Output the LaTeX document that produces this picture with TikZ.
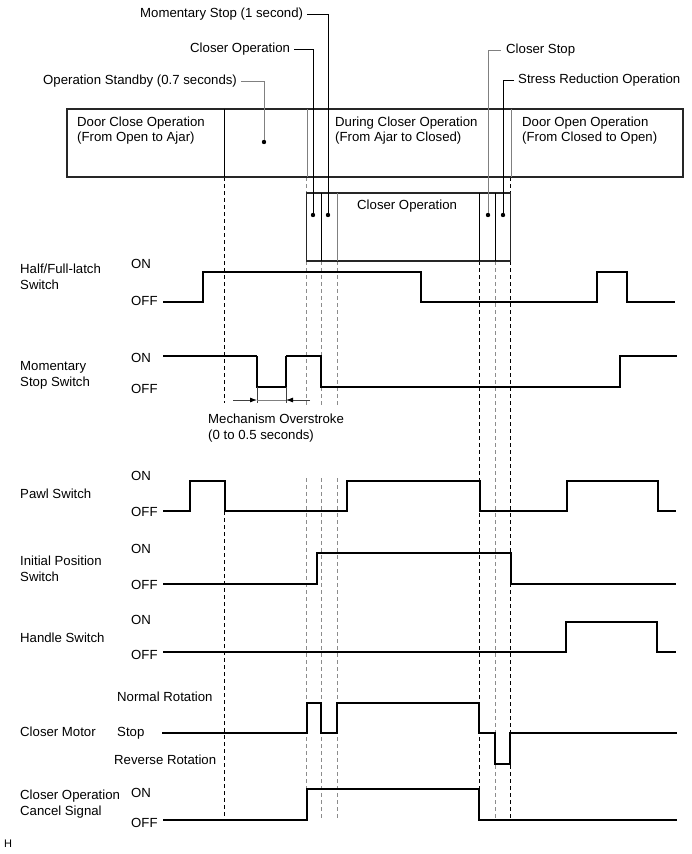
\documentclass[tikz,border=0pt]{standalone}
\usepackage{fontspec}
\setmainfont{Liberation Sans}
\usetikzlibrary{arrows.meta}
\begin{document}
\begin{tikzpicture}[x=1pt,y=-1pt,
  txt/.style={inner sep=0pt,anchor=base west,font=\fontsize{13.2}{16}\selectfont},
  sig/.style={line width=1.8pt,line join=miter,black},
  thinsig/.style={line width=1.2pt,black},
  boxl/.style={draw=black!85,line width=1.2pt},
  lead/.style={line width=1pt,black},
  leadg/.style={line width=1pt,black!50},
  dsh/.style={line width=0.9pt,black,dash pattern=on 4pt off 3pt},
  dshg/.style={line width=0.9pt,black!45,dash pattern=on 4pt off 3pt},
  dotm/.style={circle,fill=black,inner sep=0pt,minimum size=4.4pt},
  dimarrow/.style={line width=0.8pt,black!75,-{Latex[length=7pt,width=5pt,fill=black,color=black]}}
]
\useasboundingbox (0,0) rectangle (691,854);

% ---------- dashed time markers ----------
\draw[dsh]  (224,177) -- (224,403);
\draw[dsh]  (224,511) -- (224,820);
\draw[dshg] (306.5,177) -- (306.5,406);
\draw[dshg] (306.5,478) -- (306.5,820);
\draw[dshg] (321,261) -- (321,406);
\draw[dshg] (321,478) -- (321,820);
\draw[dshg] (337,261) -- (337,406);
\draw[dshg] (337,478) -- (337,820);
\draw[dsh]  (479,261) -- (479,820);
\draw[dshg] (495,261) -- (495,820);
\draw[dsh]  (510.5,177) -- (510.5,820);

% ---------- top box ----------
\draw[boxl,fill=white] (67,109) rectangle (683,177);
\draw[line width=1pt,black] (224,109) -- (224,177);
\draw[line width=1pt,black!50] (307,109) -- (307,177);
\draw[line width=1pt,black!50] (511,109) -- (511,177);
\node[txt] (dc1) at (77,126.5) {Door Close Operation};
\node[txt] (dc2) at (77,141) {(From Open to Ajar)};
\node[txt] (dr1) at (335,126.5) {During Closer Operation};
\node[txt] (dr2) at (335,141) {(From Ajar to Closed)};
\node[txt] (do1) at (522,126.5) {Door Open Operation};
\node[txt] (do2) at (522,141) {(From Closed to Open)};

% ---------- closer operation box ----------
\draw[boxl,fill=white] (306.5,193) rectangle (510.5,261);
\draw[line width=1pt,black] (321,193) -- (321,261);
\draw[line width=1pt,black!50] (337,193) -- (337,261);
\draw[line width=1pt,black] (479,193) -- (479,261);
\draw[line width=1pt,black] (495,193) -- (495,261);
\node[txt] (cob) at (357,209.5) {Closer Operation};

% ---------- leaders ----------
\node[dotm] (p1) at (264,142) {};
\node[dotm] (p2) at (313,215) {};
\node[dotm] (p3) at (328,215) {};
\node[dotm] (p4) at (488,215) {};
\node[dotm] (p5) at (503,215) {};
\node[txt] (lms) at (140,17.5) {Momentary Stop (1 second)};
\node[txt] (lco) at (190,52.5) {Closer Operation};
\node[txt] (los) at (43,84.5) {Operation Standby (0.7 seconds)};
\node[txt] (lcs) at (506,53.5) {Closer Stop};
\node[txt] (lsr) at (518,83.5) {Stress Reduction Operation};
\draw[lead]  ([xshift=4pt]lms.east) -| (p3);
\draw[lead]  ([xshift=4pt]lco.east) -| (p2);
\draw[leadg] ([xshift=4pt]los.east) -| (p1);
\draw[leadg] ([xshift=-5pt]lcs.west) -| (p4);
\draw[lead]  ([xshift=-4pt]lsr.west) -| (p5);

% ---------- Half/Full-latch Switch ----------
\node[txt] (hf1) at (20,273.5) {Half/Full-latch};
\node[txt] (hf2) at (20,289.5) {Switch};
\node[txt] (hfon) at (131,268.5) {ON};
\node[txt] (hfoff) at (131,305.5) {OFF};
\draw[sig] (163,302) -- (203,302) -- (203,272) -- (421,272) -- (421,302) -- (597,302) -- (597,272) -- (627,272) -- (627,302) -- (675,302);

% ---------- Momentary Stop Switch ----------
\node[txt] (ms1) at (20,370.5) {Momentary};
\node[txt] (ms2) at (20,386.5) {Stop Switch};
\node[txt] (mson) at (131,362) {ON};
\node[txt] (msoff) at (131,393) {OFF};
\draw[sig] (163,356) -- (257,356);
\draw[thinsig] (257,356) -- (257,387) -- (286,387) -- (286,356);
\draw[sig] (286,356) -- (321,356) -- (321,387) -- (620,387) -- (620,356) -- (677,356);
\draw[line width=0.8pt,black!75] (257,387) -- (257,403);
\draw[line width=0.8pt,black!75] (286,387) -- (286,403);
\coordinate (ma1) at (233,400);
\coordinate (ma2) at (257,400);
\coordinate (mb1) at (310,400);
\coordinate (mb2) at (286,400);
\draw[line width=0.6pt,black!50] (ma2) -- (mb2);
\draw[dimarrow] (ma1) -- (ma2);
\draw[dimarrow] (mb1) -- (mb2);
\node[txt] (mo1) at (208,423.5) {Mechanism Overstroke};
\node[txt] (mo2) at (208,439.5) {(0 to 0.5 seconds)};

% ---------- Pawl Switch ----------
\node[txt] (pw1) at (20,498.5) {Pawl Switch};
\node[txt] (pwon) at (131,480.5) {ON};
\node[txt] (pwoff) at (131,516.5) {OFF};
\draw[sig] (163,511) -- (190,511) -- (190,481) -- (225,481) -- (225,511) -- (347,511) -- (347,481) -- (480,481) -- (480,511) -- (567,511) -- (567,481) -- (658,481) -- (658,511) -- (676,511);

% ---------- Initial Position Switch ----------
\node[txt] (ip1) at (20,565.5) {Initial Position};
\node[txt] (ip2) at (20,581.5) {Switch};
\node[txt] (ipon) at (131,553.5) {ON};
\node[txt] (ipoff) at (131,589.5) {OFF};
\draw[sig] (163,584) -- (317,584) -- (317,553) -- (511,553) -- (511,584) -- (676,584);

% ---------- Handle Switch ----------
\node[txt] (hs1) at (20,642.5) {Handle Switch};
\node[txt] (hson) at (131,624.5) {ON};
\node[txt] (hsoff) at (131,659) {OFF};
\draw[sig] (163,652) -- (566,652) -- (566,622) -- (657,622) -- (657,652) -- (676,652);

% ---------- Closer Motor ----------
\node[txt] (cm1) at (20,736.5) {Closer Motor};
\node[txt] (cmn) at (117,701.5) {Normal Rotation};
\node[txt] (cms) at (117,736.5) {Stop};
\node[txt] (cmr) at (114,764.5) {Reverse Rotation};
\draw[sig] (162,733) -- (307,733) -- (307,703) -- (321,703) -- (321,733) -- (337,733) -- (337,703) -- (479,703) -- (479,733) -- (495,733) -- (495,764) -- (510,764) -- (510,733) -- (677,733);

% ---------- Closer Operation Cancel Signal ----------
\node[txt] (cc1) at (20,799.5) {Closer Operation};
\node[txt] (cc2) at (20,815.5) {Cancel Signal};
\node[txt] (ccon) at (131,797.5) {ON};
\node[txt] (ccoff) at (131,827.5) {OFF};
\draw[sig] (163,820) -- (307,820) -- (307,789) -- (479,789) -- (479,820) -- (677,820);

\node[txt,font=\fontsize{11}{13}\selectfont] (hmark) at (4,847) {H};
\end{tikzpicture}
\end{document}
